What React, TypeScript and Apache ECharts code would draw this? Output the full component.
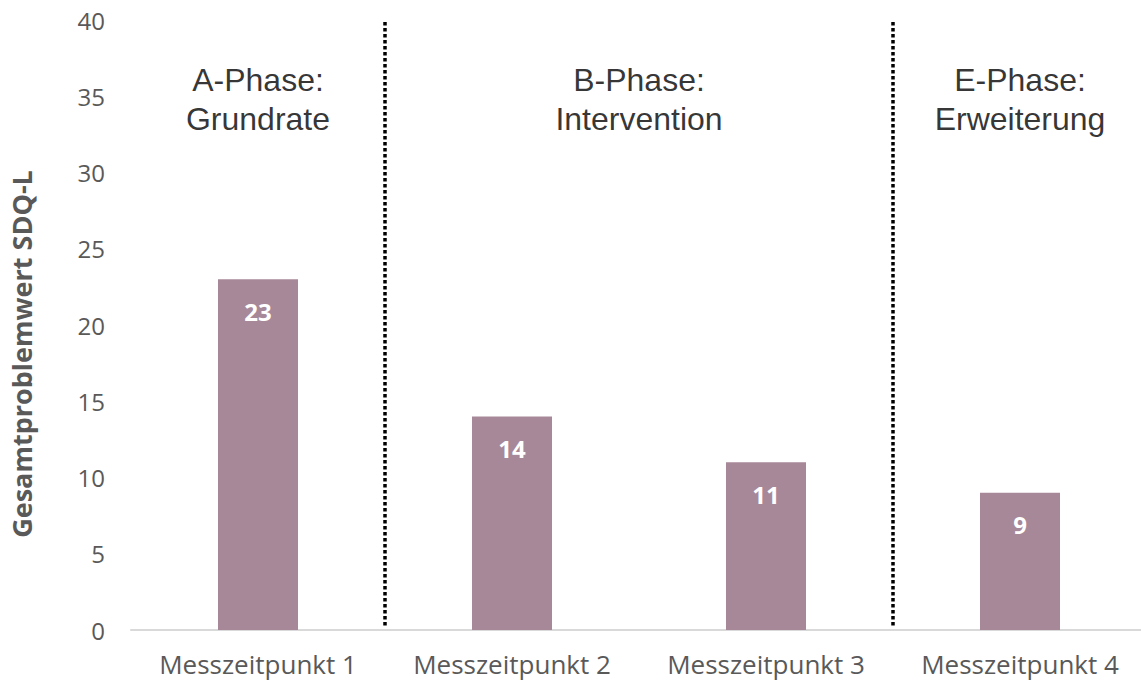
import React, { useEffect, useRef } from "react";
import * as echarts from "echarts";

const categories = ["Messzeitpunkt 1", "Messzeitpunkt 2", "Messzeitpunkt 3", "Messzeitpunkt 4"];
const values = [23, 14, 11, 9];
const yTicks = { min: 0, max: 40, interval: 5 };
const phaseNames = ["A-Phase:\nGrundrate", "B-Phase:\nIntervention", "E-Phase:\nErweiterung"];
const phaseCenters = [0.5, 2, 3.5];
const phaseLabelLevel = 34.8;
const phaseBoundaries = [1, 3];
const yAxisTitle = "Gesamtproblemwert SDQ-L";

export default function App() {
  const ref = useRef<HTMLDivElement>(null);
  useEffect(() => {
    if (!ref.current) return;
    const chart = echarts.init(ref.current, undefined, { renderer: "svg" });
    const gray = "#595959";
    chart.setOption({
      animation: false,
      backgroundColor: "#ffffff",
      grid: { left: 131, right: 0, top: 20, bottom: 54 },
      xAxis: [
        {
          type: "category",
          data: categories,
          axisTick: { show: false },
          axisLine: { lineStyle: { color: "#d9d9d9", width: 2 } },
          axisLabel: { color: gray, fontFamily: "Open Sans", fontSize: 26, margin: 21, interval: 0, hideOverlap: false },
        },
        { type: "value", min: 0, max: 4, show: false },
      ],
      yAxis: {
        type: "value",
        min: yTicks.min,
        max: yTicks.max,
        interval: yTicks.interval,
        splitLine: { show: false },
        axisLine: { show: false },
        axisTick: { show: false },
        axisLabel: { color: gray, fontFamily: "Open Sans", fontSize: 24, margin: 26 },
        name: yAxisTitle,
        nameLocation: "middle",
        nameGap: 96,
        nameTextStyle: {
          color: gray,
          fontFamily: "Open Sans",
          fontWeight: "bold",
          fontSize: 27,
          padding: [0, 58, 0, 0],
        },
      },
      series: [
        {
          type: "bar",
          data: values,
          barWidth: "31.5%",
          itemStyle: { color: "#a78898" },
          label: {
            show: true,
            position: "insideTop",
            distance: 20,
            color: "#ffffff",
            fontFamily: "Open Sans",
            fontWeight: "bold",
            fontSize: 24,
          },
        },
        {
          type: "scatter",
          xAxisIndex: 1,
          symbolSize: 0,
          data: phaseCenters.map((x, i) => ({ value: [x, phaseLabelLevel], name: phaseNames[i] })),
          label: {
            show: true,
            position: "inside",
            formatter: (p: any) => p.name,
            color: "#000000",
            fontFamily: "Liberation Sans",
            fontSize: 32,
            lineHeight: 39,
            align: "center",
          },
          markLine: {
            silent: true,
            symbol: "none",
            label: { show: false },
            lineStyle: { color: "#000000", width: 3.5, type: [3.5, 2.5], cap: "butt" },
            data: phaseBoundaries.map((b) => [
              { coord: [b, 0.3] },
              { coord: [b, 40] },
            ]),
          },
        },
      ],
    });
    return () => chart.dispose();
  }, []);
  return (
    <div style={{ position: "fixed", left: 0, top: 0, width: 1141, height: 684, overflow: "hidden", background: "#fff" }}>
      <div ref={ref} style={{ width: 1147, height: 684 }} />
    </div>
  );
}
